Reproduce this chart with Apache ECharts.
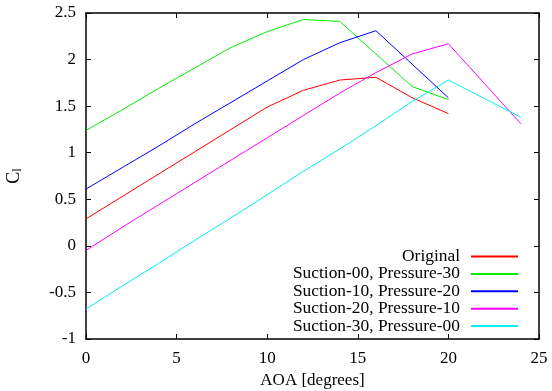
<!DOCTYPE html>
<html>
<head>
<meta charset="utf-8">
<script src="https://cdn.jsdelivr.net/npm/echarts@6/dist/echarts.min.js"></script>
<style>html,body{margin:0;padding:0;background:#fff;}#c{width:552px;height:391px;}</style>
</head>
<body>
<div id="c"></div>
<script>
const aoaShort = [0, 2, 4, 6, 8, 10, 12, 14, 16, 18, 20];
const aoaLong = [0, 2, 4, 6, 8, 10, 12, 14, 16, 18, 20, 22, 24];
const seriesNames = ['Original', 'Suction-00, Pressure-30', 'Suction-10, Pressure-20', 'Suction-20, Pressure-10', 'Suction-30, Pressure-00'];
const original = [0.29, 0.53, 0.77, 1.01, 1.25, 1.49, 1.67, 1.78, 1.81, 1.59, 1.42];
const s00p30 = [1.24, 1.46, 1.69, 1.91, 2.13, 2.30, 2.43, 2.41, 2.06, 1.71, 1.57];
const s10p20 = [0.61, 0.84, 1.07, 1.31, 1.54, 1.77, 2.00, 2.18, 2.31, 1.95, 1.59];
const s20p10 = [-0.05, 0.20, 0.44, 0.68, 0.92, 1.16, 1.40, 1.64, 1.86, 2.06, 2.17, 1.74, 1.31];
const s30p00 = [-0.68, -0.43, -0.19, 0.06, 0.30, 0.55, 0.80, 1.04, 1.29, 1.55, 1.78, 1.58, 1.38];
const colors = ['#ff0000', '#00ee00', '#0000ff', '#ff00ff', '#00f0f0'];

const font = 'Liberation Serif';
const pairs = (xs, ys) => xs.map((x, i) => [x, ys[i]]);
const seriesData = [
  pairs(aoaShort, original),
  pairs(aoaShort, s00p30),
  pairs(aoaShort, s10p20),
  pairs(aoaLong, s20p10),
  pairs(aoaLong, s30p00)
];

const chart = echarts.init(document.getElementById('c'));
const axisLine = { show: true, onZero: false, lineStyle: { color: '#000', width: 1.5 } };
const tick = { show: true, inside: true, length: 5, lineStyle: { color: '#000', width: 1 } };
chart.setOption({
  animation: false,
  backgroundColor: '#fff',
  color: colors,
  grid: { left: 86, right: 13, top: 13, bottom: 52, containLabel: false, outerBoundsMode: 'none' },
  legend: {
    orient: 'vertical',
    align: 'right',
    right: 29,
    top: 243,
    padding: 5,
    itemWidth: 47,
    itemHeight: 2,
    itemGap: 0.4,
    icon: 'rect',
    textStyle: { fontFamily: font, fontSize: 17.4, color: '#000', lineHeight: 17, padding: [0, 6, 0, 0] },
    data: seriesNames
  },
  xAxis: [{
    type: 'value', min: 0, max: 25, interval: 5,
    name: 'AOA [degrees]', nameLocation: 'middle', nameGap: 33,
    nameTextStyle: { fontFamily: font, fontSize: 17, color: '#000' },
    axisLine: axisLine, axisTick: tick,
    axisLabel: { fontFamily: font, fontSize: 17, color: '#000', margin: 11 },
    splitLine: { show: false }
  }, {
    type: 'value', min: 0, max: 25, interval: 5, position: 'top',
    axisLine: axisLine, axisTick: tick, axisLabel: { show: false }, splitLine: { show: false }
  }],
  yAxis: [{
    type: 'value', min: -1, max: 2.5, interval: 0.5,
    name: '{c|C}{s|l}', nameLocation: 'middle', nameGap: 62, nameRotate: 90,
    nameTextStyle: {
      rich: {
        c: { fontFamily: font, fontSize: 18, color: '#000', verticalAlign: 'middle' },
        s: { fontFamily: font, fontSize: 12, color: '#000', verticalAlign: 'bottom', padding: [8, 0, 0, 0] }
      }
    },
    axisLine: axisLine, axisTick: tick,
    axisLabel: { fontFamily: font, fontSize: 17, color: '#000', margin: 10 },
    splitLine: { show: false }
  }, {
    type: 'value', min: -1, max: 2.5, interval: 0.5, position: 'right',
    axisLine: axisLine, axisTick: tick, axisLabel: { show: false }, splitLine: { show: false }
  }],
  series: seriesNames.map((n, i) => ({
    name: n, type: 'line', data: seriesData[i], showSymbol: false,
    lineStyle: { width: 1, color: colors[i] }, itemStyle: { color: colors[i] }
  }))
});
</script>
</body>
</html>
